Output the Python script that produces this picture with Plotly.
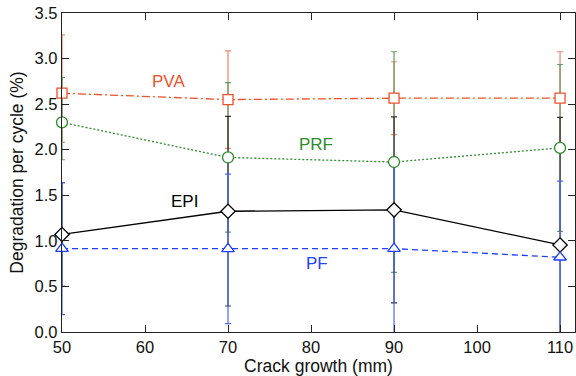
import plotly.graph_objects as go

crack = [50, 70, 90, 110]

pva = [2.62, 2.55, 2.565, 2.565]
pva_err_plus = [0.64, 0.535, 0.40, 0.51]
pva_err_minus = [0.54, 0.535, 0.40, 0.51]

prf = [2.30, 1.915, 1.865, 2.02]
prf_err_plus = [0.49, 0.82, 1.21, 0.915]
prf_err_minus = [0.41, 0.82, 1.21, 0.915]

epi = [1.07, 1.325, 1.34, 0.955]
epi_err = [0.57, 1.04, 1.02, 1.40]

pf = [0.915, 0.912, 0.915, 0.82]
pf_err = [0.725, 0.82, 0.95, 0.835]

series = [
    dict(name="PVA", y=pva, ep=pva_err_plus, em=pva_err_minus, color="#F0502A",
         ecolor="#F4836A", dash="8px,3px,2px,3px", symbol="square", size=10,
         label_x=62.8, label_y=2.75),
    dict(name="PRF", y=prf, ep=prf_err_plus, em=prf_err_minus, color="#2E8B2E",
         ecolor="#5F9F5F", dash="2px,2px", symbol="circle", size=11,
         label_x=80.6, label_y=2.06),
    dict(name="EPI", y=epi, ep=epi_err, em=epi_err, color="#000000",
         ecolor="#333333", dash="solid", symbol="diamond", size=11,
         label_x=64.8, label_y=1.43),
    dict(name="PF", y=pf, ep=pf_err, em=pf_err, color="#1F3FFF",
         ecolor="#4A64FF", dash="6px,4px", symbol="triangle-up", size=11,
         label_x=80.7, label_y=0.75),
]

fig = go.Figure()

# error bars + lines (clipped to the plot area)
for s in series:
    fig.add_trace(go.Scatter(
        x=crack, y=s["y"], mode="lines",
        line=dict(color=s["color"], width=1.3, dash=s["dash"]),
        error_y=dict(type="data", symmetric=False, array=s["ep"], arrayminus=s["em"],
                     color=s["ecolor"], thickness=1.2, width=3),
        showlegend=False, hoverinfo="skip", cliponaxis=True,
    ))

# markers (not clipped)
for s in series:
    fig.add_trace(go.Scatter(
        x=crack, y=s["y"], mode="markers",
        marker=dict(symbol=s["symbol"], size=s["size"],
                    color="white", line=dict(color=s["color"], width=1.3)),
        showlegend=False, cliponaxis=False,
    ))

for s in series:
    fig.add_annotation(x=s["label_x"], y=s["label_y"], text=s["name"], showarrow=False,
                       font=dict(family="Liberation Sans, Arial", size=17, color=s["color"]))

axis_common = dict(
    showgrid=False, zeroline=False, showline=True, linecolor="#222222", linewidth=1.3,
    mirror="ticks", ticks="inside", ticklen=7, tickwidth=1.2, tickcolor="#222222",
    tickfont=dict(family="Liberation Sans, Arial", size=16.5, color="#111111"),
)

fig.update_layout(
    width=576, height=376,
    margin=dict(l=62, r=1, t=13, b=44),
    plot_bgcolor="white", paper_bgcolor="white",
    xaxis=dict(range=[50, 111.8], tickvals=[50, 60, 70, 80, 90, 100, 110],
               title=dict(text="Crack growth (mm)", standoff=3,
                          font=dict(family="Liberation Sans, Arial", size=17.5, color="#111111")),
               **axis_common),
    yaxis=dict(range=[0, 3.5], tickvals=[0, 0.5, 1.0, 1.5, 2.0, 2.5, 3.0, 3.5],
               tickformat=".1f",
               title=dict(text="Degradation per cycle (%)", standoff=6,
                          font=dict(family="Liberation Sans, Arial", size=17.5, color="#111111")),
               **axis_common),
)

fig.write_html("out.html")
